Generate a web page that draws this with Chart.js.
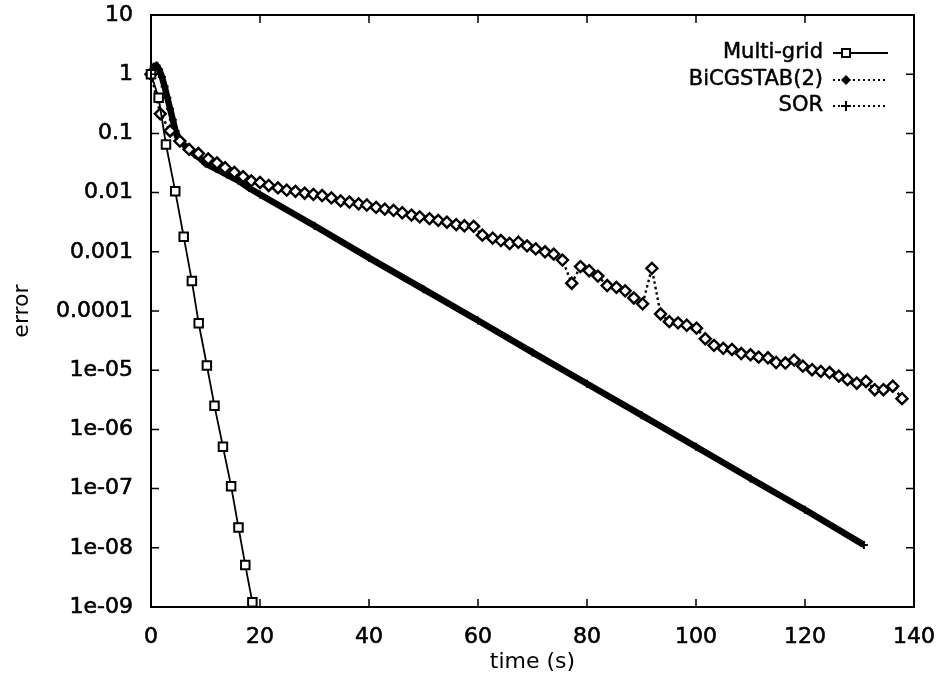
<!DOCTYPE html>
<html>
<head>
<meta charset="utf-8">
<title>error vs time</title>
<script src="https://cdn.jsdelivr.net/npm/chart.js@4.4.1/dist/chart.umd.min.js"></script>
<style>
  html, body { margin: 0; padding: 0; background: #fff; }
  canvas { display: block; }
</style>
</head>
<body>
<canvas id="errorChart" width="945" height="676"></canvas>
<script>
// Multi-grid
const mgTime = [0, 1.4, 2.75, 4.45, 6.0, 7.5, 8.75, 10.25, 11.65, 13.2, 14.7, 16.05, 17.3, 18.6];
const mgError = [1, 0.4, 0.065, 0.0105, 0.0018, 3.2e-4, 6.2e-5, 1.2e-5, 2.5e-6, 5.1e-7, 1.1e-7, 2.2e-8, 5.1e-9, 1.2e-9];

// BiCGSTAB(2)
const bicgTime = [0, 1.7, 3.5, 5.3, 7.0, 8.7, 10.5, 12.1, 13.6, 15.3, 16.9, 18.4, 20.0, 21.6, 23.3, 24.9,
  26.5, 28.2, 29.8, 31.4, 33.1, 34.8, 36.4, 38.1, 39.6, 41.3, 42.9, 44.5, 46.1, 47.8, 49.3, 51.1,
  52.7, 54.3, 56.0, 57.5, 59.2, 60.8, 62.7, 64.2, 65.8, 67.4, 69.0, 70.6, 72.3, 73.9, 75.5, 77.2,
  78.8, 80.4, 82.0, 83.7, 85.4, 87.0, 88.6, 90.2, 91.9, 93.5, 95.1, 96.7, 98.3, 100.1, 101.7, 103.3,
  105.0, 106.6, 108.3, 110.0, 111.5, 113.2, 114.7, 116.4, 118.0, 119.6, 121.3, 122.9, 124.5, 126.2,
  127.8, 129.5, 131.2, 132.8, 134.4, 136.1, 137.8];
const bicgError = [1, 0.214, 0.110, 0.0741, 0.0537, 0.0457, 0.0372, 0.0316, 0.0263, 0.0219, 0.0186, 0.0158, 0.0148, 0.0132, 0.0120, 0.0110,
  0.0105, 0.00977, 0.00933, 0.00891, 0.00813, 0.00724, 0.00692, 0.00646, 0.00617, 0.00562, 0.00525, 0.00501, 0.00457, 0.00417, 0.00389, 0.00363,
  0.00339, 0.00316, 0.00288, 0.00275, 0.00269, 0.00191, 0.00170, 0.00155, 0.00138, 0.00145, 0.00126, 0.00112, 0.00100, 0.000912, 0.000724, 0.000295,
  0.000562, 0.000479, 0.000389, 0.000269, 0.000251, 0.000219, 0.000166, 0.000132, 0.000525, 8.91e-5, 6.61e-5, 6.31e-5, 5.75e-5, 5.13e-5, 3.39e-5, 2.63e-5,
  2.34e-5, 2.24e-5, 1.91e-5, 1.82e-5, 1.66e-5, 1.62e-5, 1.35e-5, 1.32e-5, 1.48e-5, 1.17e-5, 1.02e-5, 9.55e-6, 9.12e-6, 7.94e-6,
  6.92e-6, 6.03e-6, 6.46e-6, 4.68e-6, 4.68e-6, 5.37e-6, 3.31e-6];

// SOR
const sorTime = [0, 0.5, 1.0, 1.5, 2.0, 2.5, 3.0, 3.5, 4.0, 4.5, 5.0, 6.0, 7.0, 8.0, 9.0, 10, 12, 14, 16, 18,
  20, 30, 40, 50, 60, 70, 80, 90, 100, 110, 120, 130.8];
const sorError = [1.0, 1.35, 1.4, 1.2, 0.9, 0.62, 0.40, 0.26, 0.17, 0.11, 0.085, 0.065, 0.052, 0.044, 0.038, 0.031, 0.025, 0.020, 0.016, 0.012,
  0.0093, 0.00275, 0.00079, 0.000234, 6.9e-5, 2.0e-5, 5.9e-6, 1.74e-6, 5.1e-7, 1.48e-7, 4.4e-8, 1.12e-8];

const xTicks = [0, 20, 40, 60, 80, 100, 120, 140];
const yTickValues = [10, 1, 0.1, 0.01, 0.001, 0.0001, 1e-5, 1e-6, 1e-7, 1e-8, 1e-9];
const yTickLabels = ['10', '1', '0.1', '0.01', '0.001', '0.0001', '1e-05', '1e-06', '1e-07', '1e-08', '1e-09'];
const seriesNames = ['Multi-grid', 'BiCGSTAB(2)', 'SOR'];

const FONT = '"DejaVu Sans", sans-serif';

function toPoints(xs, ys) {
  return xs.map((x, i) => ({ x: x, y: ys[i] }));
}

// frame + inward ticks on all four sides, like gnuplot
const framePlugin = {
  id: 'frame',
  afterDatasetsDraw(chart) {
    const { ctx, chartArea: a, scales } = chart;
    ctx.save();
    ctx.strokeStyle = '#000';
    ctx.lineWidth = 2;
    ctx.strokeRect(a.left, a.top, a.right - a.left, a.bottom - a.top);
    ctx.lineWidth = 1.5;
    ctx.beginPath();
    xTicks.forEach(v => {
      const px = scales.x.getPixelForValue(v);
      ctx.moveTo(px, a.bottom);
      ctx.lineTo(px, a.bottom - 8);
      ctx.moveTo(px, a.top);
      ctx.lineTo(px, a.top + 8);
    });
    yTickValues.forEach(v => {
      const py = scales.y.getPixelForValue(v);
      ctx.moveTo(a.left, py);
      ctx.lineTo(a.left + 8, py);
      ctx.moveTo(a.right, py);
      ctx.lineTo(a.right - 8, py);
    });
    ctx.stroke();
    ctx.restore();
  }
};

// gnuplot style key in the top right corner
const keyPlugin = {
  id: 'gnuKey',
  afterDraw(chart) {
    const ctx = chart.ctx;
    const textRight = 823;
    const lineLeft = 833, lineRight = 888, markX = 846;
    const rows = [53, 80, 106];
    ctx.save();
    ctx.font = '21px ' + FONT;
    ctx.textAlign = 'right';
    ctx.textBaseline = 'middle';
    seriesNames.forEach((name, i) => {
      const y = rows[i];
      ctx.fillStyle = '#000';
      ctx.strokeStyle = '#000';
      ctx.lineWidth = 0.5;
      ctx.fillText(name, textRight, y);
      ctx.strokeText(name, textRight, y);
      ctx.lineWidth = 2;
      ctx.setLineDash(i === 0 ? [] : [2, 3]);
      ctx.beginPath();
      ctx.moveTo(lineLeft, y);
      ctx.lineTo(lineRight, y);
      ctx.stroke();
      ctx.setLineDash([]);
      ctx.beginPath();
      if (i === 0) {
        ctx.fillStyle = '#fff';
        ctx.rect(markX - 4, y - 4, 8, 8);
        ctx.fill();
        ctx.stroke();
      } else if (i === 1) {
        ctx.moveTo(markX, y - 5);
        ctx.lineTo(markX + 5, y);
        ctx.lineTo(markX, y + 5);
        ctx.lineTo(markX - 5, y);
        ctx.closePath();
        ctx.fill();
      } else {
        ctx.moveTo(markX - 5, y);
        ctx.lineTo(markX + 5, y);
        ctx.moveTo(markX, y - 5);
        ctx.lineTo(markX, y + 5);
        ctx.stroke();
      }
    });
    ctx.restore();
  }
};

const tickFont = { family: FONT, size: 22 };

new Chart('errorChart', {
  type: 'line',
  data: {
    datasets: [{
      label: seriesNames[0],
      data: toPoints(mgTime, mgError),
      borderColor: '#000',
      borderWidth: 1.8,
      pointStyle: 'rect',
      pointRadius: 6,
      pointBorderWidth: 2,
      pointBorderColor: '#000',
      pointBackgroundColor: '#fff',
      clip: 10
    }, {
      label: seriesNames[1],
      data: toPoints(bicgTime, bicgError),
      borderColor: '#000',
      borderWidth: 2.4,
      borderDash: [2.5, 3],
      pointStyle: 'rectRot',
      pointRadius: 5.5,
      pointBorderWidth: 2.4,
      pointBorderColor: '#000',
      pointBackgroundColor: '#fff',
      clip: 10
    }, {
      label: seriesNames[2],
      data: toPoints(sorTime, sorError),
      borderColor: '#000',
      borderWidth: 6.5,
      pointStyle: 'cross',
      pointRadius: 4,
      pointBorderWidth: 2,
      pointBorderColor: '#000',
      clip: 10
    }]
  },
  options: {
    responsive: false,
    animation: false,
    layout: { padding: { top: 15, right: 31, left: 0, bottom: 0 } },
    elements: { line: { tension: 0 } },
    plugins: {
      legend: { display: false },
      tooltip: { enabled: false }
    },
    scales: {
      x: {
        type: 'linear',
        min: 0,
        max: 140,
        afterFit: scale => {
          scale.height = 69;
          scale.paddingLeft = 0;
          scale.paddingRight = 0;
        },
        afterBuildTicks: scale => { scale.ticks = xTicks.map(v => ({ value: v })); },
        grid: { display: false, drawTicks: false },
        border: { display: false },
        ticks: { color: '#000', font: tickFont, padding: 17, maxRotation: 0, textStrokeColor: '#000', textStrokeWidth: 0.6 },
        title: { display: true, text: 'time (s)', color: '#000', font: tickFont, padding: { top: 0, bottom: 1 } }
      },
      y: {
        type: 'logarithmic',
        min: 1e-9,
        max: 10,
        afterFit: scale => {
          scale.width = 151;
          scale.paddingTop = 0;
          scale.paddingBottom = 0;
        },
        afterBuildTicks: scale => { scale.ticks = yTickValues.map(v => ({ value: v })); },
        grid: { display: false, drawTicks: false },
        border: { display: false },
        ticks: {
          color: '#000',
          font: tickFont,
          padding: 18,
          autoSkip: false,
          textStrokeColor: '#000',
          textStrokeWidth: 0.6,
          callback: (value, index) => yTickLabels[index]
        },
        title: { display: true, text: 'error', color: '#000', font: tickFont, padding: { top: 9, bottom: 0 } }
      }
    }
  },
  plugins: [framePlugin, keyPlugin]
});
</script>
</body>
</html>
